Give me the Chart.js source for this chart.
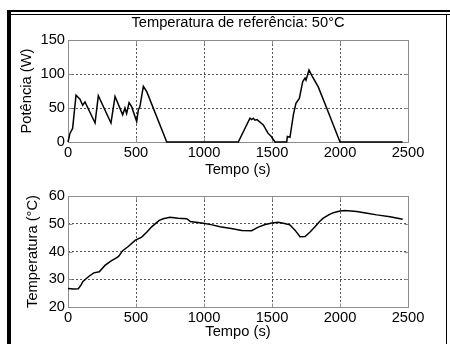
<!DOCTYPE html>
<html>
<head>
<meta charset="utf-8">
<script src="https://cdn.jsdelivr.net/npm/chart.js@4"></script>
<style>
  html, body { margin: 0; padding: 0; background: #fff; }
  body { width: 450px; height: 344px; position: relative; overflow: hidden; }
  .cv { position: absolute; left: 0; }
  .deco { position: absolute; background: #000; z-index: 5; }
</style>
</head>
<body>
<canvas id="c1" class="cv" width="450" height="180" style="top:0px"></canvas>
<canvas id="c2" class="cv" width="450" height="164" style="top:180px"></canvas>
<div class="deco" style="left:7px; top:10px; width:443px; height:2px;"></div>
<div class="deco" style="left:11px; top:14px; width:439px; height:1px;"></div>
<div class="deco" style="left:7px; top:10px; width:4px; height:334px;"></div>
<div class="deco" style="left:446px; top:14px; width:1px; height:330px;"></div>
<script>
// ---- data ----
const titleText = 'Temperatura de referência: 50°C';
const xTickValues = [0, 500, 1000, 1500, 2000, 2500];
const powerTickValues = [0, 50, 100, 150];
const tempTickValues = [20, 30, 40, 50, 60];

const powerTime   = [0, 15, 34, 59, 88, 108, 125, 199, 223, 316, 346, 402, 419, 431, 449, 468, 505, 517, 529, 554, 579, 726,
                     1252, 1338, 1350, 1362, 1375, 1390, 1436, 1470, 1495, 1522, 1608, 1613, 1632, 1657, 1676, 1701, 1726, 1743, 1750, 1772, 1792, 1840, 1902, 1951, 2000, 2460];
const powerValues = [0, 13, 20, 69, 63, 54, 59, 28, 68, 28, 67, 40, 50, 42, 58, 52, 30, 47, 52, 82, 74, 0,
                     0, 35, 33, 35, 32, 33, 25, 13, 8, 0, 0, 8, 7, 40, 57, 64, 89, 94, 91, 106, 98, 81, 50, 25, 0, 0];

const tempTime   = [0, 40, 76, 95, 110, 150, 190, 230, 272, 320, 350, 372, 402, 443, 493, 542, 580, 615, 671, 700, 750, 810, 873, 900, 996, 1060, 1118, 1200, 1277, 1350, 1399, 1450, 1500, 1546, 1600, 1632, 1669, 1706, 1743, 1780, 1816, 1850, 1877, 1920, 1951, 2000, 2037, 2123, 2200, 2270, 2368, 2461];
const tempValues = [26.7, 26.5, 26.6, 27.9, 29.2, 30.9, 32.3, 32.7, 35.0, 36.7, 37.5, 38.2, 40.3, 41.8, 44.0, 45.2, 47.0, 48.9, 51.2, 51.8, 52.3, 52.0, 51.8, 50.8, 50.2, 49.6, 48.9, 48.3, 47.6, 47.5, 48.8, 49.7, 50.3, 50.5, 50.0, 49.6, 47.7, 45.3, 45.4, 47.0, 48.9, 50.8, 52.0, 53.3, 54.0, 54.6, 54.8, 54.4, 53.8, 53.2, 52.5, 51.6];

// ---- styling ----
const FS = 14.7;
Chart.defaults.font.family = "'Liberation Sans', Arial, Helvetica, sans-serif";
Chart.defaults.font.size = FS;
Chart.defaults.color = '#000';

const BOX = '#8c8c8c';
const GRID = '#555';

const boxPlugin = {
  id: 'matBox',
  beforeDatasetsDraw(chart) {
    const {ctx, chartArea: a, scales} = chart;
    const x = scales.x, y = scales.y;
    ctx.save();
    ctx.strokeStyle = BOX;
    ctx.lineWidth = 1;
    ctx.setLineDash([]);
    const L = a.left + 0.5, R = a.right + 0.5, T = a.top + 0.5, B = a.bottom + 0.5;
    ctx.beginPath();
    ctx.rect(L, T, R - L, B - T);
    const tl = 4;
    x.ticks.forEach(t => {
      const px = Math.round(x.getPixelForValue(t.value)) + 0.5;
      ctx.moveTo(px, B); ctx.lineTo(px, B - tl);
      ctx.moveTo(px, T); ctx.lineTo(px, T + tl);
    });
    y.ticks.forEach(t => {
      const py = Math.round(y.getPixelForValue(t.value)) + 0.5;
      ctx.moveTo(L, py); ctx.lineTo(L + tl, py);
      ctx.moveTo(R, py); ctx.lineTo(R - tl, py);
    });
    ctx.stroke();
    ctx.restore();
  }
};

function makePoints(xs, ys) { return xs.map((v, i) => ({x: v, y: ys[i]})); }

function makeChart(id, opts) {
  return new Chart(document.getElementById(id), {
    type: 'line',
    data: {
      datasets: [{
        data: makePoints(opts.xs, opts.ys),
        borderColor: '#000',
        borderWidth: 1.5,
        pointRadius: 0,
        tension: 0,
        fill: false,
        clip: false
      }]
    },
    options: {
      responsive: false,
      animation: false,
      layout: { padding: { left: 0, right: 42, top: opts.padTop, bottom: 0 } },
      plugins: {
        legend: { display: false },
        tooltip: { enabled: false },
        title: opts.title ? {
          display: true,
          text: opts.title,
          fullSize: false,
          font: { size: FS, weight: 'normal' },
          color: '#000',
          padding: { top: 14.6, bottom: 7.76 }
        } : { display: false }
      },
      scales: {
        x: {
          type: 'linear',
          min: 0, max: 2500,
          afterBuildTicks: s => { s.ticks = xTickValues.map(v => ({value: v})); },
          afterFit: s => { s.height = opts.xHeight; },
          grid: { color: GRID, lineWidth: 1, drawTicks: false },
          border: { display: false, dash: [2, 2] },
          ticks: { padding: 2.2, maxRotation: 0, autoSkip: false, color: '#000', callback: v => String(v) },
          title: { display: true, text: 'Tempo (s)', font: { size: FS }, color: '#000', padding: { top: 0, bottom: opts.xTitlePad } }
        },
        y: {
          type: 'linear',
          min: opts.yMin, max: opts.yMax,
          afterBuildTicks: s => { s.ticks = opts.yTicks.map(v => ({value: v})); },
          afterFit: s => { s.width = 68; },
          grid: { color: GRID, lineWidth: 1, drawTicks: false },
          border: { display: false, dash: [2, 2] },
          ticks: { padding: 3, autoSkip: false, color: '#000', callback: v => String(v) },
          title: { display: true, text: opts.yTitle, font: { size: FS }, color: '#000', padding: { top: opts.yTitlePad, bottom: 0 } }
        }
      }
    },
    plugins: [boxPlugin]
  });
}

makeChart('c1', {
  xs: powerTime, ys: powerValues, title: titleText, padTop: 0,
  xHeight: 38, xTitlePad: 1.2,
  yMin: 0, yMax: 150, yTicks: powerTickValues, yTitle: 'Potência (W)', yTitlePad: 18
});
makeChart('c2', {
  xs: tempTime, ys: tempValues, title: null, padTop: 16,
  xHeight: 37, xTitlePad: 3.2,
  yMin: 20, yMax: 60, yTicks: tempTickValues, yTitle: 'Temperatura (°C)', yTitlePad: 24
});
</script>
</body>
</html>
